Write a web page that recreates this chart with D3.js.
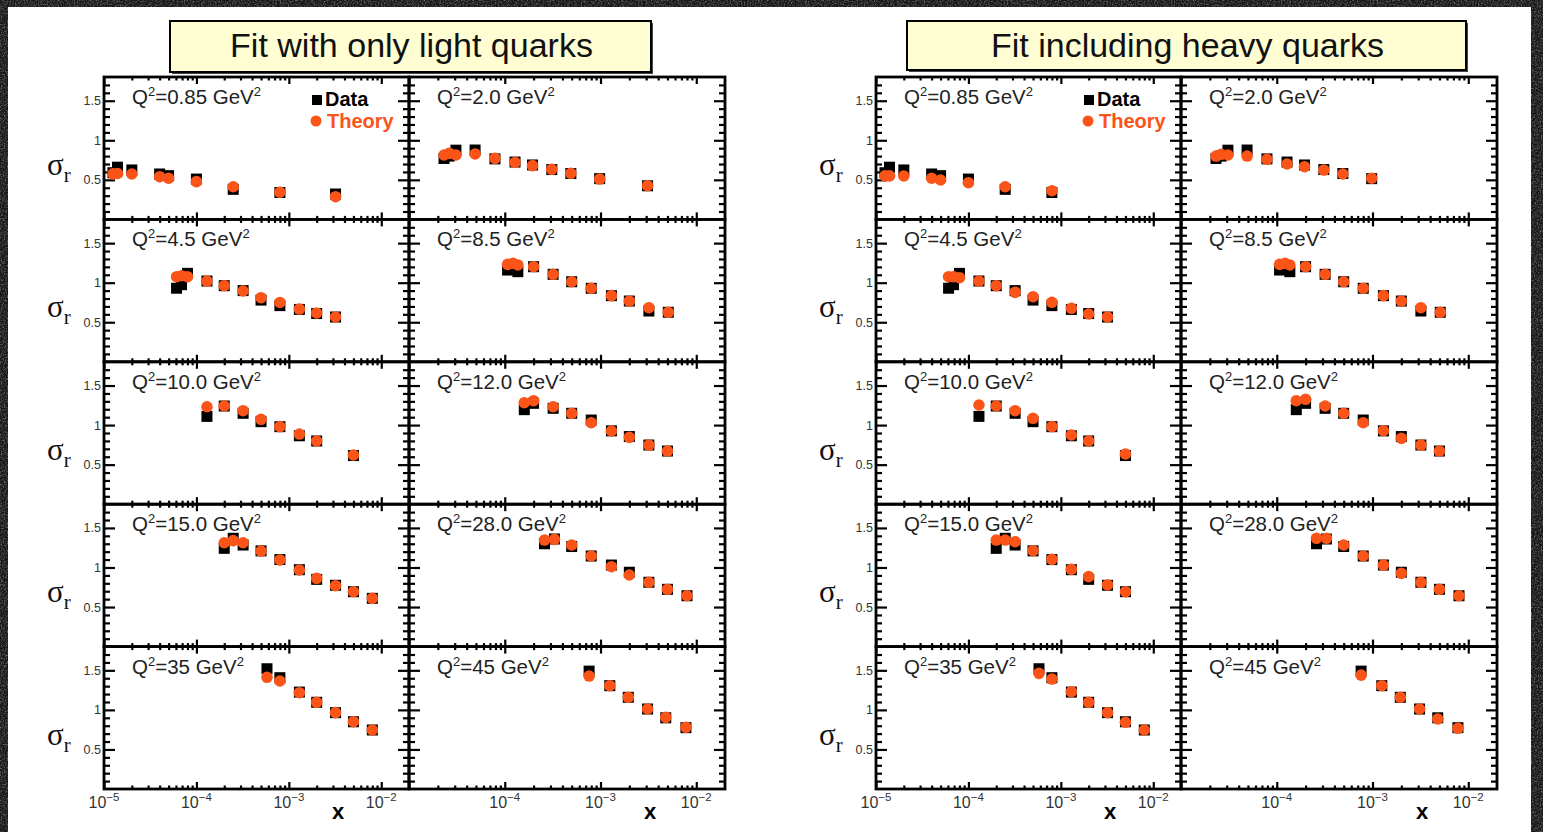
<!DOCTYPE html>
<html lang="en">
<head>
<meta charset="UTF-8">
<title>sigma_r fits</title>
<script src="https://cdn.jsdelivr.net/npm/d3@7"></script>
<style>
  body { margin: 0; background: #1b1b1b; }
  svg { display: block; }
  text { font-family: "Liberation Sans", Arial, Helvetica, sans-serif; }
</style>
</head>
<body>
<svg width="1543" height="832"></svg>
<script>
// Q^2 bins, one panel each
var q2Labels = ["0.85", "2.0", "4.5", "8.5", "10.0", "12.0", "15.0", "28.0", "35", "45"];

// x of every point, per bin
var xValues = [
  [1.25e-5, 1.4e-5, 2.0e-5, 4.0e-5, 5.0e-5, 1.0e-4, 2.5e-4, 8.0e-4, 3.2e-3],
  [2.32e-5, 2.63e-5, 3.09e-5, 4.9e-5, 7.9e-5, 1.28e-4, 1.95e-4, 3.1e-4, 4.9e-4, 9.8e-4, 3.1e-3],
  [6.1e-5, 6.9e-5, 8.0e-5, 1.3e-4, 2.0e-4, 3.2e-4, 5.0e-4, 8.0e-4, 1.3e-3, 2.0e-3, 3.2e-3],
  [1.07e-4, 1.22e-4, 1.37e-4, 2.0e-4, 3.2e-4, 5.0e-4, 8.0e-4, 1.3e-3, 2.0e-3, 3.2e-3, 5.1e-3],
  [1.3e-4, 2.0e-4, 3.2e-4, 5.0e-4, 8.0e-4, 1.3e-3, 2.0e-3, 5.0e-3],
  [1.6e-4, 2.0e-4, 3.2e-4, 5.0e-4, 8.0e-4, 1.3e-3, 2.0e-3, 3.2e-3, 5.0e-3],
  [2.0e-4, 2.5e-4, 3.2e-4, 5.0e-4, 8.0e-4, 1.3e-3, 2.0e-3, 3.2e-3, 5.0e-3, 8.0e-3],
  [2.6e-4, 3.3e-4, 5.0e-4, 8.0e-4, 1.3e-3, 2.0e-3, 3.2e-3, 5.0e-3, 8.0e-3],
  [5.8e-4, 8.0e-4, 1.3e-3, 2.0e-3, 3.2e-3, 5.0e-3, 8.0e-3],
  [7.6e-4, 1.25e-3, 1.95e-3, 3.1e-3, 4.8e-3, 7.8e-3]
];

// measured sigma_r (black squares)
var dataValues = [
  [0.59, 0.66, 0.625, 0.574, 0.553, 0.51, 0.38, 0.34, 0.321],
  [0.77, 0.80, 0.875, 0.877, 0.765, 0.725, 0.688, 0.63, 0.58, 0.515, 0.425],
  [0.93, 0.975, 1.118, 1.021, 0.962, 0.90, 0.78, 0.71, 0.662, 0.61, 0.566],
  [1.16, 1.182, 1.139, 1.202, 1.106, 1.012, 0.929, 0.836, 0.768, 0.642, 0.626],
  [1.11, 1.241, 1.149, 1.043, 0.98, 0.865, 0.799, 0.615],
  [1.195, 1.275, 1.212, 1.149, 1.064, 0.927, 0.855, 0.748, 0.672],
  [1.242, 1.369, 1.284, 1.21, 1.10, 0.972, 0.85, 0.775, 0.694, 0.61],
  [1.30, 1.36, 1.265, 1.145, 1.031, 0.94, 0.813, 0.724, 0.643],
  [1.52, 1.407, 1.225, 1.096, 0.965, 0.85, 0.746],
  [1.49, 1.306, 1.159, 1.011, 0.90, 0.775]
];

// theory, light quarks only (left block)
var theoryLight = [
  [0.575, 0.58, 0.574, 0.54, 0.52, 0.477, 0.413, 0.343, 0.287],
  [0.814, 0.835, 0.814, 0.827, 0.772, 0.72, 0.68, 0.633, 0.583, 0.51, 0.426],
  [1.076, 1.088, 1.076, 1.021, 0.962, 0.895, 0.81, 0.75, 0.667, 0.617, 0.566],
  [1.232, 1.245, 1.224, 1.202, 1.106, 1.012, 0.929, 0.836, 0.768, 0.684, 0.626],
  [1.232, 1.241, 1.182, 1.073, 0.98, 0.887, 0.799, 0.622],
  [1.283, 1.308, 1.232, 1.149, 1.03, 0.925, 0.845, 0.748, 0.672],
  [1.313, 1.339, 1.313, 1.208, 1.095, 0.968, 0.863, 0.77, 0.694, 0.61],
  [1.347, 1.356, 1.284, 1.145, 1.01, 0.905, 0.813, 0.724, 0.643],
  [1.412, 1.365, 1.217, 1.096, 0.965, 0.851, 0.746],
  [1.428, 1.306, 1.159, 1.011, 0.906, 0.78]
];

// theory including heavy quarks (right block, fewer points in some bins)
var theoryHeavy = [
  [0.55, 0.55, 0.549, 0.52, 0.498, 0.464, 0.413, 0.363],
  [0.801, 0.823, 0.814, 0.801, 0.76, 0.70, 0.666, 0.624, 0.574, 0.52],
  [1.076, 1.076, 1.063, 1.021, 0.962, 0.878, 0.823, 0.752, 0.676, 0.604, 0.566],
  [1.232, 1.245, 1.224, 1.202, 1.106, 1.012, 0.929, 0.836, 0.768, 0.684, 0.626],
  [1.254, 1.241, 1.182, 1.086, 0.98, 0.875, 0.799, 0.635],
  [1.308, 1.326, 1.241, 1.149, 1.03, 0.929, 0.833, 0.748, 0.672],
  [1.347, 1.347, 1.326, 1.212, 1.103, 0.977, 0.884, 0.779, 0.694],
  [1.369, 1.369, 1.284, 1.145, 1.031, 0.926, 0.813, 0.724, 0.643],
  [1.462, 1.39, 1.23, 1.096, 0.965, 0.843, 0.746],
  [1.44, 1.306, 1.159, 1.011, 0.885, 0.767]
];

var xTickExps = [-5, -4, -3, -2];
var yTickLabels = [0.5, 1, 1.5];

var orange = "#fa5419";
var colW = [305, 316];
var top0 = 77, rowH = 142.4;

var svg = d3.select("svg");

// dark granite backdrop
var defs = svg.append("defs");
var f = defs.append("filter").attr("id", "grain").attr("x", 0).attr("y", 0).attr("width", 1).attr("height", 1);
f.append("feTurbulence").attr("type", "fractalNoise").attr("baseFrequency", 0.7).attr("numOctaves", 3).attr("seed", 4);
f.append("feColorMatrix").attr("type", "matrix")
  .attr("values", "0 0 0 0 0.42  0 0 0 0 0.42  0 0 0 0 0.42  0 0 0 1.3 -0.55");
svg.append("rect").attr("width", 1543).attr("height", 832).attr("fill", "#181818");
svg.append("rect").attr("width", 1543).attr("height", 832).attr("filter", "url(#grain)");
svg.append("rect").attr("x", 8).attr("y", 7).attr("width", 1523).attr("height", 825).attr("fill", "#fff");

var groups = [
  { left: 104, title: "Fit with only light quarks", theory: theoryLight, box: [170, 21, 481, 51] },
  { left: 876, title: "Fit including heavy quarks", theory: theoryHeavy, box: [907, 21, 559, 49] }
];

function minorX() {
  var t = [];
  for (var e = -5; e <= -2; e++)
    for (var k = 2; k <= 9; k++) {
      var v = k * Math.pow(10, e);
      if (v < 0.0199) t.push(v);
    }
  return t;
}
function minorY() {
  var t = [];
  for (var i = 1; i <= 17; i++) if (i % 5 != 0) t.push(i / 10);
  return t;
}

function ticks(g, axis, pos, major, minor, lenMaj, lenMin) {
  [[major, lenMaj], [minor, lenMin]].forEach(function (p) {
    g.append("g")
      .attr("transform", pos)
      .call(axis.tickValues(p[0]).tickSize(-p[1]).tickFormat(""))
      .call(function (s) {
        s.select(".domain").remove();
        s.selectAll("line").attr("stroke", "#000").attr("stroke-width", 2.2);
      });
  });
}

groups.forEach(function (gr) {
  // title box
  var b = gr.box;
  svg.append("rect").attr("x", b[0] + 2).attr("y", b[1] + 2).attr("width", b[2]).attr("height", b[3]).attr("fill", "#444");
  svg.append("rect").attr("x", b[0]).attr("y", b[1]).attr("width", b[2]).attr("height", b[3])
    .attr("fill", "#fffdd2").attr("stroke", "#000").attr("stroke-width", 2);
  svg.append("text").attr("x", b[0] + b[2] / 2 + 1).attr("y", b[1] + 36)
    .attr("text-anchor", "middle").attr("font-size", 34).attr("fill", "#111").text(gr.title);

  q2Labels.forEach(function (q, i) {
    var row = Math.floor(i / 2), col = i % 2;
    var x0 = gr.left + (col ? colW[0] : 0), w = colW[col];
    var y0 = top0 + row * rowH, h = rowH;

    var x = d3.scaleLog().domain([1e-5, Math.pow(10, -1.7)]).range([x0, x0 + w]);
    var y = d3.scaleLinear().domain([0, 1.8]).range([y0 + h, y0]);
    var g = svg.append("g");

    g.append("rect").attr("x", x0).attr("y", y0).attr("width", w).attr("height", h)
      .attr("fill", "none").attr("stroke", "#000").attr("stroke-width", 2.8);

    var xMaj = xTickExps.map(function (e) { return Math.pow(10, e); });
    ticks(g, d3.axisBottom(x), "translate(0," + (y0 + h) + ")", xMaj, minorX(), 7, 3.5);
    ticks(g, d3.axisTop(x), "translate(0," + y0 + ")", xMaj, minorX(), 7, 3.5);
    ticks(g, d3.axisLeft(y), "translate(" + x0 + ",0)", [0.5, 1, 1.5], minorY(), 11, 6);
    ticks(g, d3.axisRight(y), "translate(" + (x0 + w) + ",0)", [0.5, 1, 1.5], minorY(), 11, 6);

    // panel label
    var t = g.append("text").attr("x", x0 + 28).attr("y", y0 + 27).attr("font-size", 20.5).attr("fill", "#222");
    t.append("tspan").text("Q");
    t.append("tspan").attr("font-size", 13).attr("dy", -8).text("2");
    t.append("tspan").attr("dy", 8).text("=" + q + " GeV");
    t.append("tspan").attr("font-size", 13).attr("dy", -8).text("2");

    // left column: y labels and sigma_r
    if (col == 0) {
      g.selectAll(".ylab").data(yTickLabels).enter().append("text")
        .attr("x", x0 - 3).attr("y", function (d) { return y(d) + 4.5; })
        .attr("text-anchor", "end").attr("font-size", 12.5).attr("fill", "#333")
        .text(function (d) { return d; });
      var s = g.append("text").attr("x", x0 - 57).attr("y", y0 + 98)
        .style("font-family", "'Liberation Serif', 'Times New Roman', serif").attr("font-size", 31).attr("fill", "#111");
      s.append("tspan").text("σ");
      s.append("tspan").attr("font-size", 21).attr("dy", 7).text("r");
    }

    // bottom row: x labels
    if (row == 4) {
      var exps = col == 0 ? xTickExps : xTickExps.slice(1);
      exps.forEach(function (e) {
        var lt = g.append("text").attr("x", x(Math.pow(10, e))).attr("y", 808)
          .attr("text-anchor", "middle").attr("font-size", 16).attr("fill", "#333");
        lt.append("tspan").text("10");
        lt.append("tspan").attr("font-size", 11.5).attr("dy", -7).text("\u2212" + (-e));
      });
      g.append("text").attr("x", x0 + (col ? 241 : 234)).attr("y", 819)
        .attr("text-anchor", "middle").attr("font-size", 22).attr("font-weight", "bold").text("x");
    }

    // points: data then theory on top
    var th = gr.theory[i];
    var pts = xValues[i].slice(0, th.length).map(function (xv, k) {
      return { x: xv, d: dataValues[i][k], t: th[k] };
    });
    g.selectAll(".dat").data(pts).enter().append("rect")
      .attr("x", function (p) { return x(p.x) - 5.5; })
      .attr("y", function (p) { return y(p.d) - 5.5; })
      .attr("width", 11).attr("height", 11).attr("fill", "#000");
    g.selectAll(".th").data(pts).enter().append("circle")
      .attr("cx", function (p) { return x(p.x); })
      .attr("cy", function (p) { return y(p.t); })
      .attr("r", 5.8).attr("fill", orange);

    // legend in first panel
    if (i == 0) {
      g.append("rect").attr("x", x0 + 208).attr("y", y0 + 18).attr("width", 10).attr("height", 10).attr("fill", "#000");
      g.append("text").attr("x", x0 + 221).attr("y", y0 + 29).attr("font-size", 20).attr("font-weight", "bold").text("Data");
      g.append("circle").attr("cx", x0 + 212).attr("cy", y0 + 44).attr("r", 5.5).attr("fill", orange);
      g.append("text").attr("x", x0 + 223).attr("y", y0 + 51).attr("font-size", 20).attr("font-weight", "bold")
        .attr("fill", orange).text("Theory");
    }
  });
});
</script>
</body>
</html>
